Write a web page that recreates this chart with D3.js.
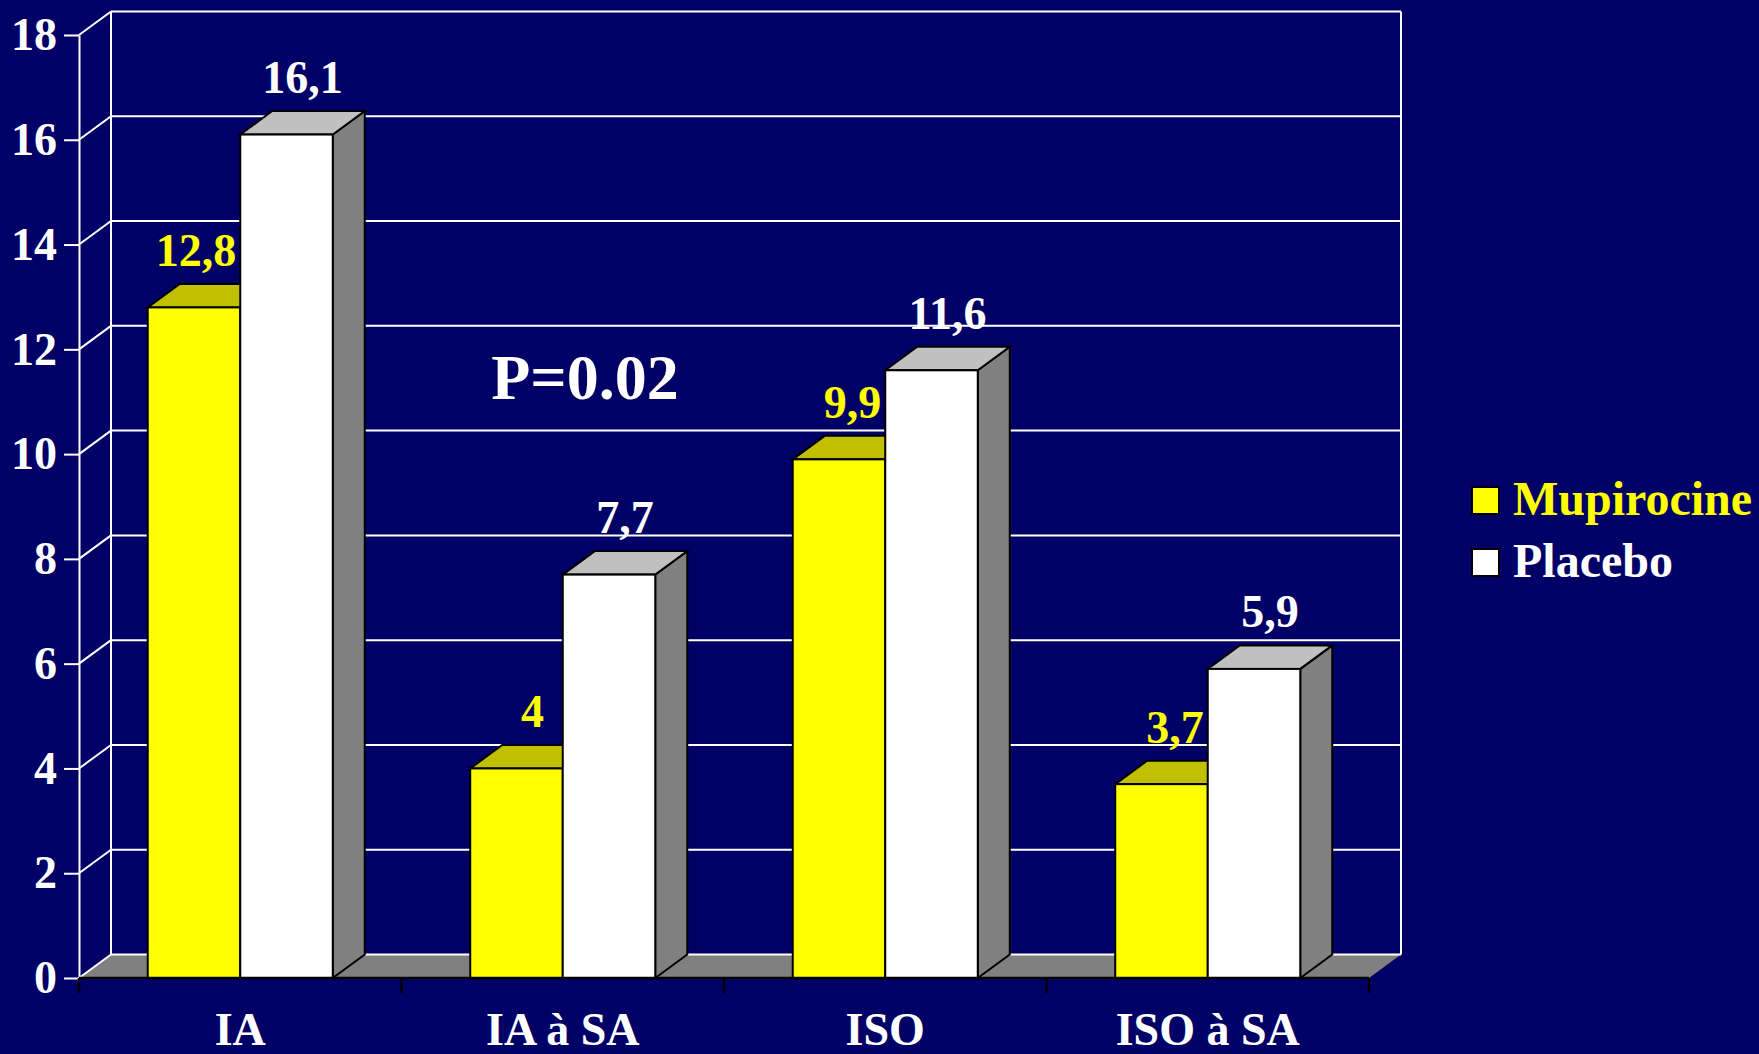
<!DOCTYPE html>
<html>
<head>
<meta charset="utf-8">
<script src="https://cdn.jsdelivr.net/npm/d3@7"></script>
<style>
  html, body { margin: 0; padding: 0; background: #000066; }
  svg { display: block; }
  text { font-family: "Liberation Serif", "Times New Roman", Times, serif; font-weight: bold; }
</style>
</head>
<body>
<div id="chart"></div>
<script>
// Infection rates by category, mupirocine vs placebo
const categories = ["IA", "IA à SA", "ISO", "ISO à SA"];
const seriesNames = ["Mupirocine", "Placebo"];
const mupirocine = [12.8, 4, 9.9, 3.7];
const placebo = [16.1, 7.7, 11.6, 5.9];
const yTickValues = [0, 2, 4, 6, 8, 10, 12, 14, 16, 18];
const annotation = "P=0.02";

const W = 1759, H = 1054;
const DX = 32, DY = 23.5;          // depth offset of the 3D box
const plotLeft = 79, plotRight = 1369, plotBottom = 978, plotTop = 35;

const colors = {
  Mupirocine: { front: "#ffff00", top: "#c0c000", side: "#9a9a00", label: "#ffff00" },
  Placebo:    { front: "#ffffff", top: "#c0c0c0", side: "#808080", label: "#ffffff" }
};

const svg = d3.select("#chart").append("svg")
  .attr("width", W).attr("height", H);

svg.append("rect").attr("width", W).attr("height", H).attr("fill", "#000066");

const y = d3.scaleLinear().domain([0, 18]).range([plotBottom, plotTop]);
const x0 = d3.scaleBand().domain(categories).range([plotLeft, plotRight]);
const x1 = d3.scaleBand().domain(seriesNames).range([0, x0.bandwidth()]).paddingOuter(0.743);

const rows = categories.map((c, i) => ({ category: c, Mupirocine: mupirocine[i], Placebo: placebo[i] }));

// Floor
svg.append("polygon")
  .attr("points", [[plotLeft, y(0)], [plotRight, y(0)], [plotRight + DX, y(0) - DY], [plotLeft + DX, y(0) - DY]].join(" "))
  .attr("fill", "#808080");

const grid = svg.append("g").attr("stroke", "#ffffff").attr("stroke-width", 2).attr("fill", "none");

// Back-wall gridlines
grid.selectAll("line.back").data(yTickValues).join("line")
  .attr("class", "back")
  .attr("x1", plotLeft + DX).attr("x2", plotRight + DX)
  .attr("y1", d => y(d) - DY).attr("y2", d => y(d) - DY);

// Side-wall diagonals
grid.selectAll("line.diag").data(yTickValues).join("line")
  .attr("class", "diag")
  .attr("x1", plotLeft).attr("y1", d => y(d))
  .attr("x2", plotLeft + DX).attr("y2", d => y(d) - DY);

// Wall edges
grid.append("line").attr("x1", plotLeft + DX).attr("x2", plotLeft + DX)
  .attr("y1", y(0) - DY).attr("y2", y(18) - DY);
grid.append("line").attr("x1", plotRight + DX).attr("x2", plotRight + DX)
  .attr("y1", y(0) - DY).attr("y2", y(18) - DY);

// Y axis
const yAxis = svg.append("g")
  .attr("transform", `translate(${plotLeft},0)`)
  .call(d3.axisLeft(y).tickValues(yTickValues).tickSize(15).tickSizeOuter(0).tickPadding(7));
yAxis.select(".domain").attr("stroke", "#ffffff").attr("stroke-width", 2);
yAxis.selectAll(".tick line").attr("stroke", "#ffffff").attr("stroke-width", 2);
yAxis.selectAll(".tick text")
  .attr("fill", "#ffffff")
  .style("font-size", "46px")
  .style("font-family", "'Liberation Serif', 'Times New Roman', serif")
  .style("font-weight", "bold");

// 3D bars
const bars = svg.append("g").attr("stroke", "#000000").attr("stroke-width", 2).attr("stroke-linejoin", "miter");

rows.forEach(r => {
  seriesNames.forEach(s => {
    const x = x0(r.category) + x1(s);
    const w = x1.bandwidth();
    const yt = y(r[s]);
    const yb = y(0);
    const c = colors[s];
    // right side face
    bars.append("polygon")
      .attr("points", [[x + w, yb], [x + w + DX, yb - DY], [x + w + DX, yt - DY], [x + w, yt]].join(" "))
      .attr("fill", c.side);
    // top face
    bars.append("polygon")
      .attr("points", [[x, yt], [x + w, yt], [x + w + DX, yt - DY], [x + DX, yt - DY]].join(" "))
      .attr("fill", c.top);
    // front face
    bars.append("rect")
      .attr("x", x).attr("y", yt).attr("width", w).attr("height", yb - yt)
      .attr("fill", c.front);
  });
});

// X axis line with boundary ticks
const xAxis = svg.append("g").attr("stroke", "#000000").attr("stroke-width", 2.5);
xAxis.append("line").attr("x1", plotLeft).attr("x2", plotRight).attr("y1", plotBottom).attr("y2", plotBottom);
const boundaries = categories.map(c => x0(c)).concat([plotRight]);
xAxis.selectAll("line.tick").data(boundaries).join("line")
  .attr("class", "tick")
  .attr("x1", d => d).attr("x2", d => d)
  .attr("y1", plotBottom).attr("y2", plotBottom + 15);

// Category labels
svg.append("g").selectAll("text").data(categories).join("text")
  .attr("x", d => x0(d) + x0.bandwidth() / 2)
  .attr("y", 1045)
  .attr("text-anchor", "middle")
  .attr("fill", "#ffffff")
  .style("font-size", "46px")
  .text(d => d);

// Value labels
const fmt = v => String(v).replace(".", ",");
const labels = svg.append("g");
rows.forEach(r => {
  const whiteLeft = x0(r.category) + x1("Placebo");
  seriesNames.slice().reverse().forEach(s => {
    const x = x0(r.category) + x1(s);
    const w = x1.bandwidth();
    let cx = x + w / 2 + DX / 2;
    const t = labels.append("text")
      .attr("y", y(r[s]) - DY - 18)
      .attr("text-anchor", "middle")
      .attr("fill", colors[s].label)
      .style("font-size", "46px")
      .text(fmt(r[s]));
    if (s === "Mupirocine") {
      const half = t.node().getComputedTextLength() / 2;
      cx = Math.min(cx, whiteLeft - 4 - half);
    }
    t.attr("x", cx);
  });
});

// Significance annotation
svg.append("text")
  .attr("x", 585).attr("y", 399)
  .attr("text-anchor", "middle")
  .attr("fill", "#ffffff")
  .style("font-size", "64px")
  .text(annotation);

// Legend
const legend = svg.append("g");
seriesNames.forEach((s, i) => {
  const g = legend.append("g").attr("transform", `translate(1472,${487 + i * 62})`);
  g.append("rect").attr("width", 27).attr("height", 27)
    .attr("fill", colors[s].front).attr("stroke", "#000000").attr("stroke-width", 2);
  g.append("text").attr("x", 41).attr("y", 28)
    .attr("fill", colors[s].label)
    .style("font-size", "48px")
    .text(s);
});
</script>
</body>
</html>
